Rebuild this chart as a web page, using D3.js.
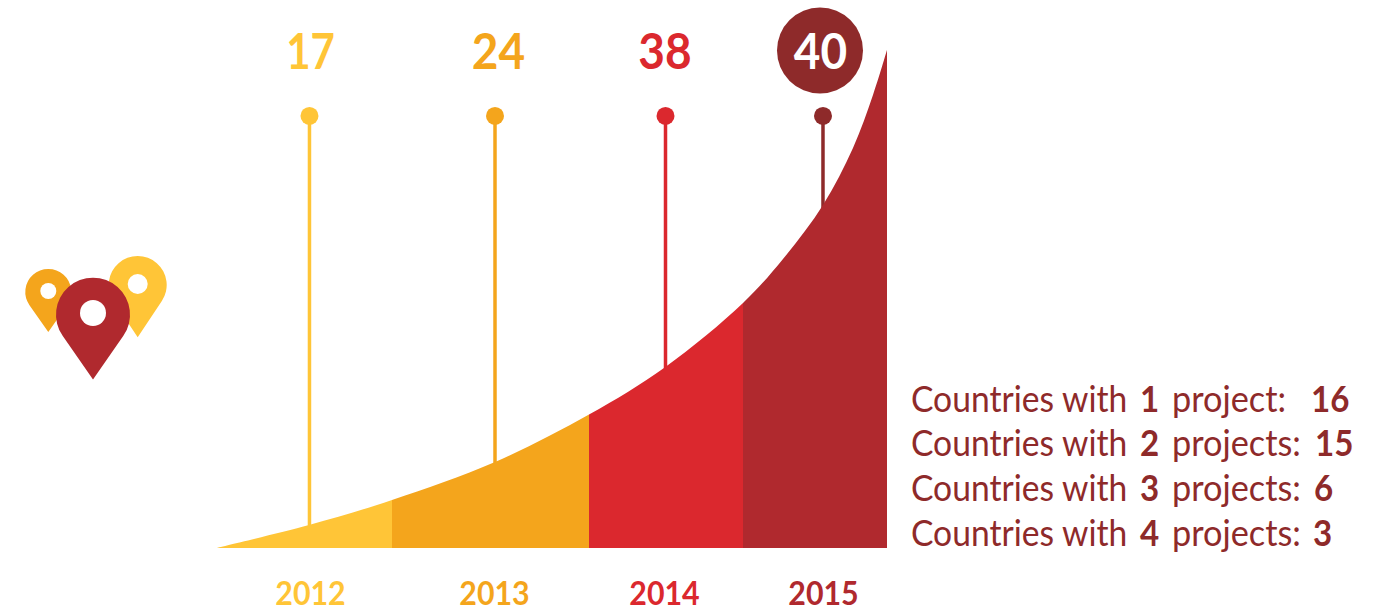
<!DOCTYPE html>
<html><head><meta charset="utf-8">
<script src="https://cdn.jsdelivr.net/npm/d3@7"></script>
<style>html,body{margin:0;padding:0;background:#fff}svg{display:block}text{font-family:Lato,sans-serif}</style>
</head><body><svg id="c" width="1389" height="611"></svg>
<script>
const years=["2012","2013","2014","2015"];
const projectCounts=[17,24,38,40];
const colors=["#FFC537","#F4A51C","#DB282E","#B0292E"];
const stemColors=["#FFC537","#F4A51C","#DB282E","#8E2A2A"];
const stemPos=[13.93,41.58,66.99,90.46];
const bandEdges=[0,26.23,55.59,78.54,100];
const curveU=[0,13.86,26.23,41.58,55.59,66.92,78.54,84.5,90.46,94.93,97.91,100];
const curveV=[0,4.62,9.64,17.27,26.8,36.3,49.2,58.03,68.87,80.32,90.96,100];
const stemTop=86.75;
const summaryCounts=["1","2","3","4"];
const summaryWords=["project:","projects:","projects:","projects:"];
const summaryValues=["16","15","6","3"];

const svg=d3.select("#c");
const x=d3.scaleLinear().domain([0,100]).range([216,887]);
const y=d3.scaleLinear().domain([0,100]).range([548,50]);
const pts=curveU.map((u,i)=>[u,curveV[i]]);
const area=d3.area().x(d=>x(d[0])).y0(y(0)).y1(d=>y(d[1])).curve(d3.curveCatmullRom.alpha(0.5));

const labelX=[310.5,498.5,665,820.5];
const yearX=[310.5,494.5,664.5,823.5];

// stems
years.forEach((yr,i)=>{
  svg.append("line").attr("x1",x(stemPos[i])).attr("x2",x(stemPos[i]))
    .attr("y1",y(stemTop)).attr("y2",y(0)-15)
    .attr("stroke",stemColors[i]).attr("stroke-width",3.5);
  svg.append("circle").attr("cx",x(stemPos[i])).attr("cy",y(stemTop)).attr("r",9).attr("fill",stemColors[i]);
});

// area bands
const defs=svg.append("defs");
years.forEach((yr,i)=>{
  defs.append("clipPath").attr("id","b"+i).append("rect")
    .attr("x",x(bandEdges[i])).attr("y",0)
    .attr("width",x(bandEdges[i+1])-x(bandEdges[i])).attr("height",y(0));
  svg.append("path").attr("d",area(pts)).attr("fill",colors[i]).attr("clip-path",`url(#b${i})`);
});

// top badge
svg.append("circle").attr("cx",820).attr("cy",50.5).attr("r",43).attr("fill","#8E2A2A");

function narrow(sel,cx,cy,sx){return sel.attr("transform",`translate(${cx},${cy}) scale(${sx},1)`).attr("text-anchor","middle");}
years.forEach((yr,i)=>{
  narrow(svg.append("text").text(projectCounts[i]),labelX[i],69,i===0?0.84:0.92)
    .attr("font-size",50).attr("font-weight",700)
    .attr("fill",i===3?"#fff":stemColors[i]);
  narrow(svg.append("text").text(yr),yearX[i],605,0.92)
    .attr("font-size",33).attr("font-weight",700).attr("fill",colors[i]);
});

// summary
const rowY=[412,456,501,546];
const valueX=[1311,1315,1314,1313];
summaryCounts.forEach((c,i)=>{
  const g=svg.append("g").attr("fill","#8E2A2A").attr("font-size",36);
  g.append("text").attr("transform",`translate(911,${rowY[i]}) scale(0.934,1)`).text("Countries with");
  g.append("text").attr("transform",`translate(1140,${rowY[i]}) scale(0.92,1)`).attr("font-weight",700).text(c);
  g.append("text").attr("transform",`translate(1172,${rowY[i]}) scale(0.953,1)`).text(summaryWords[i]);
  g.append("text").attr("transform",`translate(${valueX[i]},${rowY[i]}) scale(0.92,1)`).attr("font-weight",700).text(summaryValues[i]);
});

// map pins: [tipX, tipY, radius, headTop, holeY, holeR, fill]
const pins=[[48.3,332,23,269,291,8,"#F4A51C"],[137.7,337.3,29,256,284,10,"#FFC537"],[93,379.5,37,277.7,313,13,"#B0292E"]];
pins.forEach(([tx,ty,r,top,hy,hr,f])=>{
  const cy=top+r, dy=ty-cy, a=Math.acos(r/dy);
  const sx=Math.sin(a)*r, sy=Math.cos(a)*r;
  svg.append("path").attr("d",`M${tx},${ty}L${tx-sx},${cy+sy}A${r},${r} 0 1 1 ${tx+sx},${cy+sy}Z`).attr("fill",f);
  svg.append("circle").attr("cx",tx).attr("cy",hy).attr("r",hr).attr("fill","#fff");
});
</script></body></html>
